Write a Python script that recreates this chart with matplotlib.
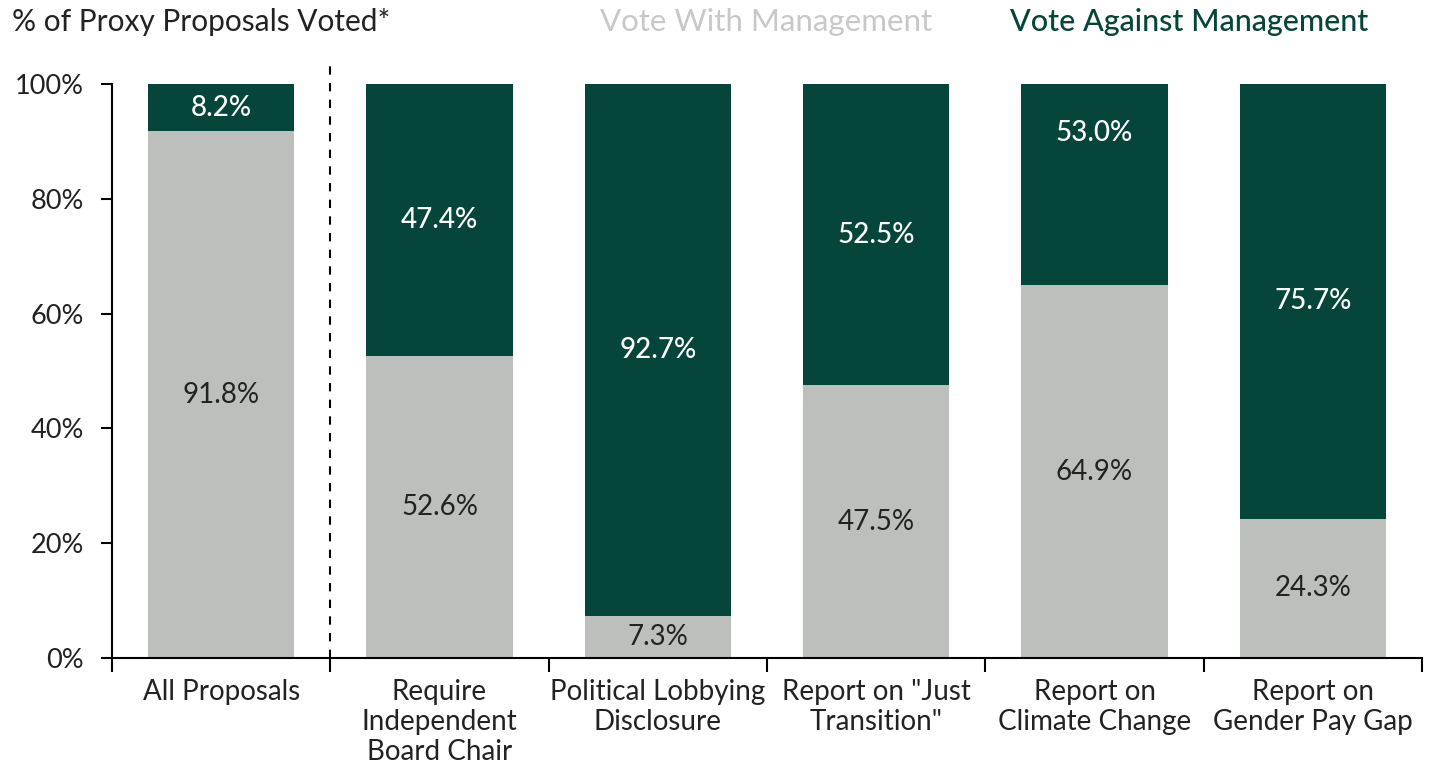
import numpy as np
import matplotlib.pyplot as plt

categories = ["All Proposals", "Require\nIndependent\nBoard Chair", "Political Lobbying\nDisclosure",
              "Report on \"Just\nTransition\"", "Report on\nClimate Change", "Report on\nGender Pay Gap"]
vote_with = [91.8, 52.6, 7.3, 47.5, 64.9, 24.3]
vote_against = [8.2, 47.4, 92.7, 52.5, 53.0, 75.7]
label_with = ["91.8%", "52.6%", "7.3%", "47.5%", "64.9%", "24.3%"]
label_against = ["8.2%", "47.4%", "92.7%", "52.5%", "53.0%", "75.7%"]
yticks = [0, 20, 40, 60, 80, 100]

green = '#05453A'
grey = '#BDBFBD'

plt.rcParams['font.family'] = ['Lato', 'DejaVu Sans']

fig = plt.figure(figsize=(14.35, 7.63), dpi=100)
ax = fig.add_axes([112/1435, 105/763, 1310/1435, 574/763])

x = np.arange(len(categories))
w = 0.67
ax.bar(x, vote_with, width=w, color=grey)
ax.bar(x, vote_against, width=w, bottom=vote_with, color=green)

# labels sit in the middle of each (unclipped) segment
for i in x:
    ax.text(i, vote_with[i] / 2, label_with[i], ha='center', va='center',
            fontsize=20, color='#222222')
    ax.text(i, vote_with[i] + vote_against[i] / 2, label_against[i], ha='center', va='center',
            fontsize=20, color='white', fontweight='medium')

ax.plot([0.5, 0.5], [0, 104], color='black', linestyle=(0, (4, 4)), linewidth=1.5, clip_on=False)

ax.set_xlim(-0.5, 5.5)
ax.set_ylim(0, 100)
ax.set_yticks(yticks)
ax.set_yticklabels([f"{v}%" for v in yticks], fontsize=19.5, color='#222222')
ax.set_xticks(x)
ax.set_xticklabels(categories, fontsize=20, color='#222222', linespacing=1.2)
ax.set_xticks(np.arange(-0.5, 6, 1), minor=True)
ax.tick_params(axis='x', which='major', length=0, pad=15)
ax.tick_params(axis='x', which='minor', length=10, width=1.5, direction='out')
ax.tick_params(axis='y', length=8, width=1.5, pad=12)
for s in ['top', 'right']:
    ax.spines[s].set_visible(False)
for s in ['left', 'bottom']:
    ax.spines[s].set_linewidth(1.5)

fig.text(12/1435, 1 - 22/763, "% of Proxy Proposals Voted*", fontsize=21.5, color='#222222', va='center', ha='left')
fig.text(932/1435, 1 - 22/763, "Vote With Management", fontsize=22.5, color='#C8C8C8', va='center', ha='right')
fig.text(1368/1435, 1 - 22/763, "Vote Against Management", fontsize=22, color=green, va='center', ha='right',
         fontweight='medium')

fig.savefig('out.png', dpi=100)
